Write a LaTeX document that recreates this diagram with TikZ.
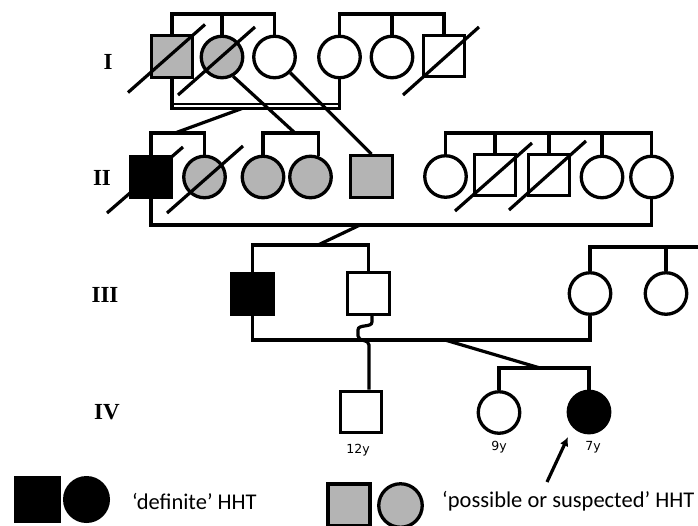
\documentclass[tikz,border=0pt]{standalone}
\usepackage{fontspec}
\setmainfont{Carlito}
\newfontfamily\romfont{Liberation Serif}
\newfontfamily\agefont{DejaVu Sans}
\usetikzlibrary{calc,arrows.meta}
\definecolor{hhtgray}{RGB}{180,180,180}
\tikzset{
  male/.style={draw, rectangle, minimum size=41.5pt, inner sep=0pt, line width=3.3pt},
  female/.style={draw, circle, minimum size=41.5pt, inner sep=0pt, line width=3.3pt},
  aff/.style={fill=black},
  poss/.style={fill=hhtgray},
  link/.style={line width=3.2pt},
  slash/.style={line width=3.2pt},
  gen/.style={font=\romfont\bfseries\fontsize{23}{26}\selectfont, inner sep=0pt},
  agelbl/.style={font=\agefont\fontsize{12.5}{15}\selectfont, inner sep=0pt},
  legtxt/.style={font=\fontsize{22.5}{27}\selectfont, anchor=west, inner sep=0pt}
}
\begin{document}
\begin{tikzpicture}[x=1pt,y=-1pt]
\useasboundingbox (0,0) rectangle (698,525);

% generation labels
\node[gen] (gI) at (108,62) {I};
\node[gen] (gII) at (102,178) {II};
\node[gen] (gIII) at (105,295) {III};
\node[gen] (gIV) at (107,412) {IV};

% ---------- Generation I ----------
\node[male,poss] (I1) at (172,56.5) {};
\node[female,poss] (I2) at (222,57) {};
\node[female] (I3) at (274.5,57) {};
\node[female] (I4) at (339.5,57) {};
\node[female] (I5) at (392,57) {};
\node[male] (I6) at (444,56) {};

\draw[link] (I1.north) |- (I3.north |- 0,14) -- (I3.north);
\draw[link] (I2.north) -- (I2.north |- 0,14);
\draw[link] (I4.north) |- (I6.north |- 0,14) -- (I6.north);
\draw[link] (I5.north) -- (I5.north |- 0,14);

\draw[slash] ($(I1)+(-44,36)$) -- ($(I1)+(33,-32)$);
\draw[slash] ($(I2)+(-44,38)$) -- ($(I2)+(33,-30)$);
\draw[slash] ($(I6)+(-41,39)$) -- ($(I6)+(35,-29)$);

% consanguineous (double) marriage line
\draw[link] (I1.south) -- (I1.south |- 0,109.8);
\draw[link] (I4.south) -- (I4.south |- 0,109.8);
\draw[line width=2.3pt] (I1.south |- 0,104.2) -- (I4.south |- 0,104.2);
\draw[line width=2.3pt] (I1.south |- 0,108.6) -- (I4.south |- 0,108.6);

% ---------- Generation II ----------
\node[male,aff] (II1) at (151,177) {};
\node[female,poss] (II2) at (204.5,177) {};
\node[female,poss] (II3) at (263,177) {};
\node[female,poss] (II4) at (310.5,177) {};
\node[male,poss] (II5) at (371.5,176.5) {};
\node[female] (II6) at (445.5,176.5) {};
\node[male] (II7) at (495,175) {};
\node[male] (II8) at (549,175) {};
\node[female] (II9) at (602,177) {};
\node[female] (II10) at (651.5,177) {};

\coordinate (dI) at (242,108.5);
\coordinate (jIIa) at (175,133);
\coordinate (jIIb) at (295,133);

\draw[link] (II1.north) |- (II2.north |- 0,133) -- (II2.north);
\draw[link] (dI) -- (jIIa);
\draw[link] (II3.north) |- (II4.70 |- 0,133) -- (II4.70);
\draw[link] (I2.-60) -- (jIIb);
\draw[link] (I3.-45) -- (II5.north);

\draw[link] (II6.north) |- (II10.north |- 0,133) -- (II10.north);
\draw[link] (II7.north) -- (II7.north |- 0,133);
\draw[link] (II8.north) -- (II8.north |- 0,133);
\draw[link] (II9.north) -- (II9.north |- 0,133);

\draw[slash] ($(II1)+(-44,36)$) -- ($(II1)+(32,-30)$);
\draw[slash] ($(II2)+(-37.5,36)$) -- ($(II2)+(38.5,-31)$);
\draw[slash] ($(II7)+(-40,36)$) -- ($(II7)+(37,-32)$);
\draw[slash] ($(II8)+(-40,35)$) -- ($(II8)+(37,-34)$);

\draw[link] (II1.south) |- (II10.south |- 0,225) -- (II10.south);

% ---------- Generation III ----------
\node[male,aff] (III1) at (252.5,294) {};
\node[male] (III2) at (368.5,293.5) {};
\node[female] (III3) at (590,293.5) {};
\node[female] (III4) at (666,293.5) {};

\coordinate (mII) at (360,225);
\coordinate (jIII) at (318,245);
\draw[link] (mII) -- (jIII);
\draw[link] (III1.north) |- (III2.north |- 0,245) -- (III2.north);

\coordinate (eIII) at (702,247);
\draw[link] (III3.north) |- (eIII);
\draw[link] (III4.north) -- (III4.north |- 0,247);

\draw[link] (III1.south) |- (III3.south |- 0,340) -- (III3.south);

% ---------- Generation IV ----------
\node[male] (IV1) at (361,412) {};
\node[female] (IV2) at (499,412.5) {};
\node[female,aff] (IV3) at (589,412) {};

\draw[link] ([xshift=3.5pt]III2.south) -- ++(0,6)
  .. controls +(0,6) and +(0,-6) .. ++(-14,8) -- ++(0,6)
  .. controls +(0,6) and +(0,-6) .. ++(11,9) -- ([xshift=8pt]IV1.north);

\coordinate (mIII) at (445,340);
\coordinate (jIV) at (540,368);
\draw[link] (mIII) -- (jIV);
\draw[link] (IV2.north) |- (IV3.north |- 0,368) -- (IV3.north);

\node[agelbl] (a1) at (358,450) {12y};
\node[agelbl] (a2) at (499,447) {9y};
\node[agelbl] (a3) at (593,447) {7y};

\coordinate (arrS) at (547,482);
\coordinate (arrE) at (568,437);
\draw[link, -{Latex[length=9pt,width=9pt]}] (arrS) -- (arrE);

% ---------- Legend ----------
\node[rectangle, fill=black, minimum size=47pt, inner sep=0pt] (L1) at (37,499.5) {};
\node[circle, fill=black, minimum size=47pt, inner sep=0pt] (L2) at (86.5,499.5) {};
\node[legtxt] (L3) at (132,501) {‘definite’ HHT};
\node[male, poss, line width=3.8pt, minimum size=42pt] (L4) at (349,505) {};
\node[female, poss, minimum size=43.5pt] (L5) at (400.5,505.5) {};
\node[legtxt] (L6) at (442,501) {‘possible or suspected’ HHT};
\end{tikzpicture}
\end{document}
